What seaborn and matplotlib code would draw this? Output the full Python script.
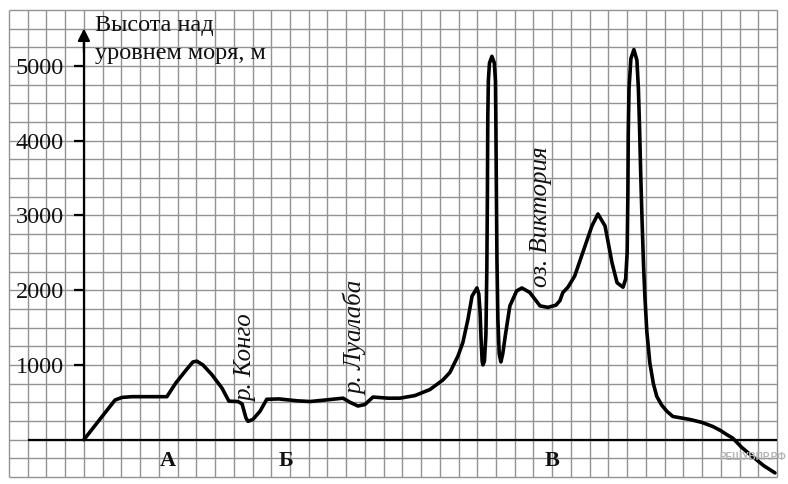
import pandas as pd
import seaborn as sns
import matplotlib.pyplot as plt
import numpy as np

# profile: distance in grid cells from the height axis, height in metres
dist = [0.0, 1.66, 2.03, 2.56, 3.52, 4.43, 4.91, 5.45, 5.82, 6.03, 6.35, 6.83, 7.37, 7.74,
        8.22, 8.44, 8.65, 8.76, 9.02, 9.4, 9.76, 10.41, 11.37, 12.07, 12.87, 13.83, 14.2,
        14.63, 15.0, 15.43, 16.23, 16.87, 17.67, 18.47, 19.17, 19.54, 19.97, 20.23, 20.5,
        20.72, 20.98, 21.08, 21.15, 21.2, 21.26, 21.3, 21.38, 21.46, 21.51, 21.54, 21.56,
        21.59, 21.65, 21.78, 21.91, 21.97, 21.99, 22.02, 22.05, 22.1, 22.17, 22.26, 22.36,
        22.5, 22.74, 23.1, 23.38, 23.8, 24.35, 24.77, 25.2, 25.41, 25.57, 25.84, 26.2,
        26.64, 27.12, 27.44, 27.82, 28.19, 28.46, 28.78, 28.92, 29.0, 29.04, 29.06, 29.1,
        29.2, 29.36, 29.52, 29.6, 29.66, 29.73, 29.8, 29.88, 29.95, 30.05, 30.21, 30.4,
        30.58, 30.85, 31.12, 31.44, 32.35, 33.0, 33.58, 34.0, 34.32, 34.64, 35.1, 35.71,
        36.3, 36.89]
height = [0, 530, 565, 575, 575, 575, 760, 930, 1040, 1050, 1000, 870, 690, 515,
          510, 480, 290, 245, 270, 380, 540, 545, 520, 510, 530, 555, 500,
          450, 470, 570, 555, 555, 590, 670, 800, 900, 1120, 1300, 1610,
          1920, 2030, 1950, 1700, 1350, 1050, 1000, 1050, 1400, 2300, 3300, 4300,
          4800, 5040, 5130, 5040, 4800, 4300, 3300, 2400, 1600, 1150, 1040, 1150,
          1400, 1790, 1990, 2030, 1970, 1790, 1770, 1800, 1860, 1970, 2040, 2190,
          2510, 2860, 3020, 2860, 2370, 2100, 2040, 2150, 2500, 3300, 4100, 4700,
          5100, 5220, 5080, 4700, 4200, 3500, 2900, 2300, 1900, 1450, 1030, 750,
          580, 460, 380, 310, 270, 230, 175, 120, 67, 20, -100, -230,
          -350, -445]

y_ticks = [1000, 2000, 3000, 4000, 5000]
zones = ['А', 'Б', 'В']
zone_x = [4.5, 10.8, 25.0]
places = ['р. Конго', 'р. Луалаба', 'оз. Виктория']
place_x = [8.7, 14.5, 24.4]
place_y = [500, 600, 2040]

df = pd.DataFrame({'dist': dist, 'height': height})

sns.set_theme(style="white", context="notebook")
plt.rcParams['font.family'] = ['Liberation Serif', 'DejaVu Serif']

fig = plt.figure(figsize=(7.88, 4.84), dpi=100)
ax = fig.add_axes([9/788, 7/484, 768/788, 467/484])
ax.set_xlim(-4, 37)
ax.set_ylim(-500, 5750)

# squared paper
ax.vlines(np.arange(-4, 38), -500, 5750, color='#939393', lw=1, zorder=0, clip_on=False)
ax.hlines(np.arange(-500, 5751, 250), -4, 37, color='#939393', lw=1, zorder=0, clip_on=False)
for s in ['top', 'right', 'bottom']:
    ax.spines[s].set_visible(False)

# height axis with arrow
ax.spines['left'].set_position(('data', 0))
ax.spines['left'].set_bounds(0, 5300)
ax.spines['left'].set_linewidth(1.6)
ax.spines['left'].set_color('black')
ax.annotate('', xy=(0, 5540), xytext=(0, 5150),
            arrowprops=dict(arrowstyle='-|>', color='black', lw=1.6, mutation_scale=18))
ax.set_yticks(y_ticks)
ax.set_yticklabels([str(t) for t in y_ticks])
ax.tick_params(axis='y', direction='out', length=7.5, width=1.6, pad=7,
               labelsize=17.5, color='black', labelcolor='#111111', left=True)
ax.set_xticks([])
ax.hlines(0, -3, 37, color='black', lw=1.6, zorder=2)

sns.lineplot(data=df, x='dist', y='height', sort=False, estimator=None,
             color='black', lw=2.6, ax=ax, zorder=3)
ax.set_xlabel('')
ax.set_ylabel('')

ax.text(0.6, 5680, 'Высота над\nуровнем моря, м', ha='left', va='top',
        fontsize=17.5, linespacing=1.4, color='#111111')

for z, zx in zip(zones, zone_x):
    ax.text(zx, -280, z, ha='center', va='center', fontsize=16, fontweight='bold', color='#111111')

for p, px, py in zip(places, place_x, place_y):
    ax.text(px, py, p, rotation=90, ha='center', va='bottom', fontsize=18,
            style='italic', color='#111111')

ax.text(33.95, -235, 'РЕШУВПР.РФ', ha='left', va='center', fontsize=7.2, fontweight='bold',
        family=['Liberation Sans', 'DejaVu Sans'], color='#b5b5b5')

plt.savefig('out.png', dpi=100)
